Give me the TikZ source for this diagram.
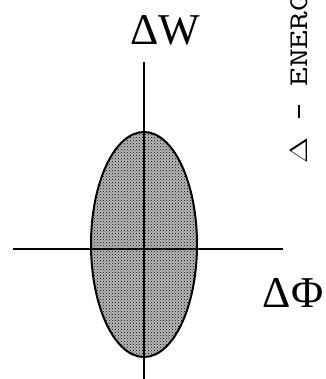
\documentclass[tikz,border=0pt]{standalone}
\usepackage{fontspec}
\setmainfont{Liberation Serif}
\usetikzlibrary{patterns}

\begin{document}
\begin{tikzpicture}[x=1pt,y=1pt,line width=1.6pt]
\useasboundingbox (0,0) rectangle (325,379);
\clip (0,0) rectangle (325,379);
% shaded region
\fill[gray!55] (144,134.5) ellipse [x radius=53,y radius=112.5];
\fill[pattern=crosshatch dots] (144,134.5) ellipse [x radius=53,y radius=112.5];
\draw[line width=2pt] (144,134.5) ellipse [x radius=53,y radius=112.5];
% axes
\coordinate (wtop) at (144,317);
\coordinate (wbot) at (144,0);
\coordinate (pleft) at (13,130);
\coordinate (pright) at (283,130);
\draw (wbot)--(wtop);
\draw (pleft)--(pright);
\node[font=\fontsize{44}{44}\selectfont] (dW) at (165,349) {ΔW};
\node[font=\fontsize{44}{44}\selectfont,anchor=west,inner sep=0pt] (dPhi) at (262,86.5) {ΔΦ};
\node[font=\ttfamily\fontsize{27}{27}\selectfont,rotate=90,anchor=base west,inner sep=0pt] (energy) at (307,215) {\scalebox{1.35}[1]{$\Delta$ \rule[0.27em]{0.36em}{0.05em} ENERGY}};
\end{tikzpicture}
\end{document}
